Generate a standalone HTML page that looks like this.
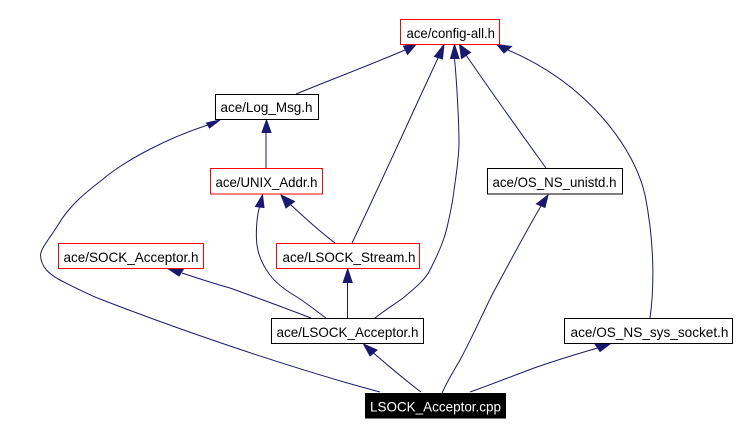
<!DOCTYPE html>
<html><head><meta charset="utf-8"><style>
html,body{margin:0;padding:0;background:#fff;width:739px;height:435px;overflow:hidden}
svg{display:block}
text{font-family:"Liberation Sans",sans-serif;font-size:14px;fill:#000;text-anchor:start}
.e{fill:none;stroke:#191970;stroke-width:1}
.a{fill:#191970;stroke:#191970;stroke-width:1}
.r{fill:#fff;stroke:#f00;stroke-width:1}
.b{fill:#fff;stroke:#000;stroke-width:1}
</style></head><body>
<svg width="739" height="435" viewBox="0 0 739 435" xmlns="http://www.w3.org/2000/svg">
<rect width="739" height="435" fill="#fff"/>
<path class="e" d="M296,94 C330,80 370,65 405,50"/>
<polygon class="a" points="416,44.5 403.5,46 407.5,54.5"/>
<path class="e" d="M352,243 C380,185 410,118 438.5,57"/>
<polygon class="a" points="444,44.5 434.5,56.5 442.5,59"/>
<path class="e" d="M375,318 C385,310 395,304 403,298 C415,288 425,280 430,270 C440,250 445,238 448,223 C451,210 453,200 454,190 C457,170 459,155 459,143 C459,125 457,85 454.5,58"/>
<polygon class="a" points="454.5,44.5 450.5,58.5 459,58.5"/>
<path class="e" d="M546,168 C520,132 490,90 466,55"/>
<polygon class="a" points="459.5,44.5 461.5,58.5 470.5,52.5"/>
<path class="e" d="M650,318 C654,290 655,245 645,195 C635,150 590,85 508,50"/>
<polygon class="a" points="497,44.5 504,53 511.5,46.5"/>
<path class="e" d="M266,168 L266,132"/>
<polygon class="a" points="266.5,120 262,132.5 271,132.5"/>
<path class="e" d="M335,243 C320,232 305,218 291,205"/>
<polygon class="a" points="281,195 286,208 294.5,201.5"/>
<path class="e" d="M326,318 C315,310 305,302 297,297 C285,290 275,282 270,275 C260,262 257,250 256.5,240 C256,228 257,216 259.5,207"/>
<polygon class="a" points="262.5,195 255.5,206.5 264,207.5"/>
<path class="e" d="M311,318 C285,308 255,297 230,288 C212,283 197,278 182,273"/>
<polygon class="a" points="168.5,269 179,276 183.5,269"/>
<path class="e" d="M347.5,318 L347.5,282"/>
<polygon class="a" points="347.7,269 343.2,282.5 352.2,282.5"/>
<path class="e" d="M421,392 C405,380 392,369 373.5,353"/>
<polygon class="a" points="363.5,344 370,356 377,350"/>
<path class="e" d="M442,393 C448,380 453,372 460,360 C472,338 482,315 493,293 C510,262 525,233 541,206"/>
<polygon class="a" points="548,195 536.5,204 545,207.5"/>
<path class="e" d="M470,392 C490,385 515,375 537,367 C557,360 577,354 597.5,348"/>
<polygon class="a" points="610,344 595,344 600,351.5"/>
<path class="e" d="M380,392 C290,368 180,330 100,299 C85,293 70,285 58,279 C50,274 41,268 40.5,255 C41,248 50,238 58,225 C68,208 82,195 102,180 C125,160 170,137 208,125"/>
<polygon class="a" points="220,120 206.5,123 209.5,128"/>

<rect class="r" x="400.5" y="19.5" width="99" height="25"/>
<text x="406.5" y="38" textLength="88.5" lengthAdjust="spacingAndGlyphs">ace/config-all.h</text>
<rect class="b" x="215.5" y="94.5" width="103" height="25"/>
<text x="220.5" y="112" textLength="92" lengthAdjust="spacingAndGlyphs">ace/Log_Msg.h</text>
<rect class="r" x="210.5" y="168.5" width="112" height="25.5"/>
<text x="215.5" y="187" textLength="102" lengthAdjust="spacingAndGlyphs">ace/UNIX_Addr.h</text>
<rect class="b" x="487.5" y="168.5" width="135" height="25.5"/>
<text x="492.5" y="187" textLength="124" lengthAdjust="spacingAndGlyphs">ace/OS_NS_unistd.h</text>
<rect class="r" x="58.5" y="243.5" width="145" height="25"/>
<text x="63.5" y="262" textLength="135" lengthAdjust="spacingAndGlyphs">ace/SOCK_Acceptor.h</text>
<rect class="r" x="276.5" y="243.5" width="143" height="25"/>
<text x="282.5" y="262" textLength="133" lengthAdjust="spacingAndGlyphs">ace/LSOCK_Stream.h</text>
<rect class="b" x="271.5" y="318.5" width="152" height="25"/>
<text x="276.5" y="337" textLength="142" lengthAdjust="spacingAndGlyphs">ace/LSOCK_Acceptor.h</text>
<rect class="b" x="564.5" y="318.5" width="168" height="25"/>
<text x="570.5" y="337" textLength="158" lengthAdjust="spacingAndGlyphs">ace/OS_NS_sys_socket.h</text>
<rect x="365" y="393" width="141" height="25.5" fill="#000"/>
<text x="370" y="411.5" textLength="131" lengthAdjust="spacingAndGlyphs" style="fill:#fff">LSOCK_Acceptor.cpp</text>
</svg>
</body></html>
